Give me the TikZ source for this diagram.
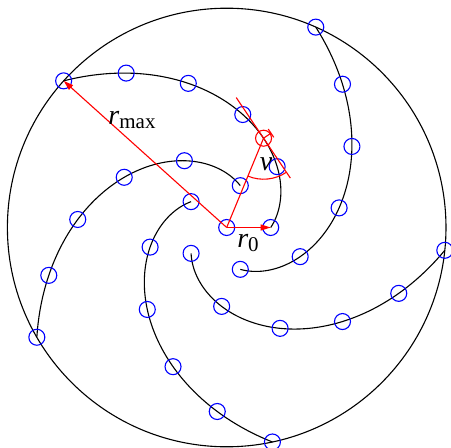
\documentclass[tikz,border=0pt]{standalone}
\usepackage{fontspec}
\setmainfont{Liberation Serif}
\usetikzlibrary{arrows.meta}
\begin{document}
\begin{tikzpicture}[x=1pt,y=1pt,
  arm/.style={black, line width=1.1pt},
  pt/.style={circle, draw=blue, line width=1.1pt, minimum size=16pt, inner sep=0pt},
  redline/.style={red, line width=1.1pt},
  redarrow/.style={red, line width=1.1pt, -{Triangle[length=10pt,width=6pt]}},
  lbl/.style={font=\fontsize{28}{30}\selectfont, inner sep=0pt}]
\useasboundingbox (-226.7,-220.5) rectangle (224.3,227.5);
\draw[arm] (0,0) circle (219.3);
\foreach \a [count=\j] in {0,72,144,216,288} {
  \draw[arm] plot[domain=0:138.03, samples=90, variable=\t] ({\a+\t}:{44*exp(0.6668*\t/57.29578)});
  \foreach \i in {0,...,5} {
    \pgfmathsetmacro{\rr}{44+35.06*\i}
    \pgfmathsetmacro{\th}{\a+57.29578*ln(\rr/44)/0.6668}
    \node[pt] (p\j\i) at (\th:\rr) {};
  }
}
\node[pt] (o) at (0,0) {};
\node[pt, draw=red] (q) at (67.57:96.6) {};
% red construction
\draw[redline] (o.center) -- (q.center);
\draw[redline] (q.center) ++(123.9:49) -- ++(303.9:97);
\draw[redline] (q.center) ++(247.6:41) arc[start angle=247.6, end angle=303.9, radius=41];
\draw[redline] (q.center) -- ++(33.9:9) coordinate (tk);
\draw[redline] (tk) ++(123.9:5) -- ++(303.9:10);
\draw[redarrow] (o.center) -- (p10.center);
\draw[redarrow] (o.center) -- (p15.center);
% labels
\node[lbl] (lmax) at (-94.7,107.5) {\textit{r}\raisebox{-3.5pt}{\fontsize{21}{21}\selectfont max}};
\node[lbl] (lz) at (21.3,-15.5) {\textit{r}\raisebox{-3.5pt}{\fontsize{21}{21}\selectfont 0}};
\node[lbl] (lnu) at (39.3,63.5) {\textit{ν}};
\end{tikzpicture}
\end{document}
